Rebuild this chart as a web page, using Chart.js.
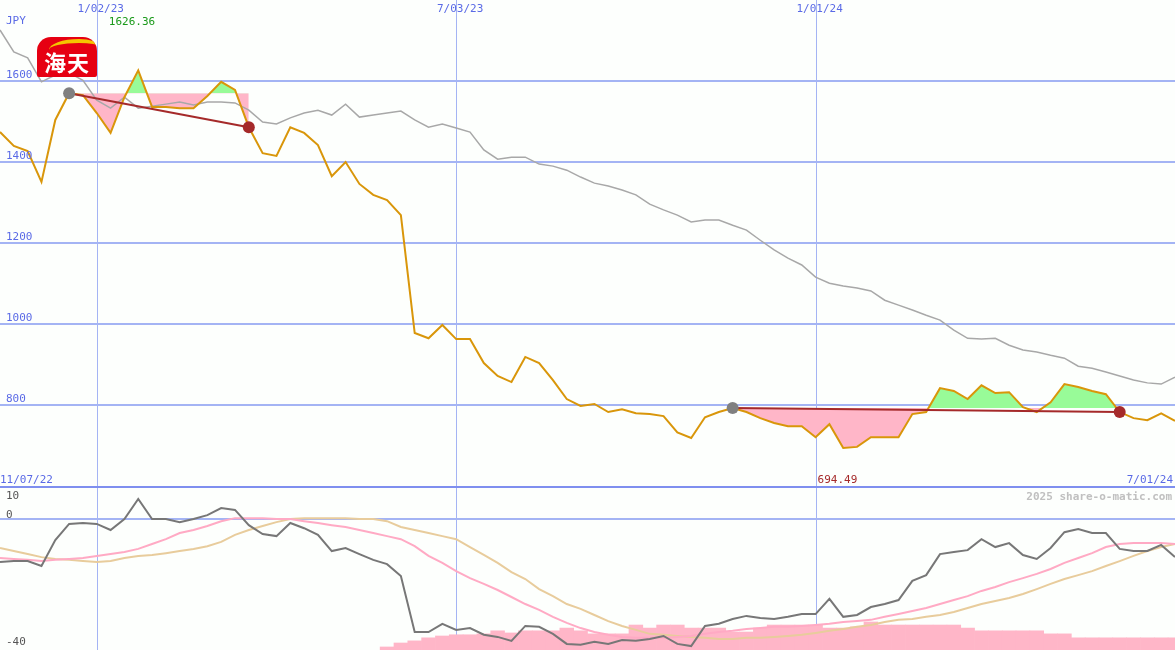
<!DOCTYPE html>
<html>
<head>
<meta charset="utf-8">
<script src="https://cdn.jsdelivr.net/npm/chart.js@4.4.1/dist/chart.umd.min.js"></script>
<style>
  body { margin: 0; background: #fdfffd; width: 1175px; height: 650px; overflow: hidden; position: relative; font-family: "DejaVu Sans Mono", monospace; }
  canvas { position: absolute; left: 0; }
  #top { top: 0; }
  #bottom { top: 488px; }
  #divider { position: absolute; left: 0; top: 486px; width: 1175px; height: 2px; background: #7f8fef; }
  #logo { position: absolute; left: 37px; top: 37px; width: 60px; height: 40px; background: #e60012; border-radius: 14px 14px 2px 2px; color: #fff; font: bold 22px "Noto Sans CJK SC", sans-serif; text-align: center; line-height: 48px; letter-spacing: 1px; overflow: hidden; }
  #logo:before { content: ""; position: absolute; left: 12px; top: 2px; width: 50px; height: 14px; border-top: 4px solid #f5c400; border-radius: 60% 40% 0 0; }
</style>
</head>
<body>
<canvas id="top" width="1175" height="487"></canvas>
<canvas id="bottom" width="1175" height="162"></canvas>
<div id="divider"></div>
<div id="logo">海天</div>
<script>
// weekly closes, 11/2022 .. 7/2024 (JPY)
const price = [1474,1440,1427,1351,1504,1570,1565,1521,1472,1560,1626.36,1536,1536,1533,1533,1563,1598,1578,1486,1422,
  1415,1486,1472,1442,1365,1400,1346,1319,1306,1269,978,965,998,963,963,904,872,857,919,904,
  862,815,798,803,783,790,780,778,773,733,719,770,783,793,783,768,756,748,748,721,
  753,694.49,697,721,721,721,778,783,842,835,815,849,830,832,795,783,807,852,845,835,
  827,783,768,763,780,761];
const average = [1726,1672,1657,1598,1615,1620,1602,1553,1533,1560,1533,1538,1543,1548,1541,1548,1548,1546,1528,1499,
  1494,1509,1521,1528,1516,1543,1511,1516,1521,1526,1504,1486,1494,1484,1474,1430,1407,1412,1412,1395,
  1390,1380,1363,1348,1341,1331,1319,1296,1282,1269,1252,1257,1257,1244,1232,1207,1183,1163,1146,1116,
  1101,1094,1089,1082,1059,1047,1035,1022,1010,985,965,963,965,948,936,931,923,916,896,891,
  882,872,862,855,852,869];
const momentum = [-14.1,-13.8,-13.8,-15.4,-6.9,-1.6,-1.3,-1.6,-3.6,0,6.6,0,0,-1.0,0,1.3,3.6,3.0,-2.0,-4.9,
  -5.6,-1.3,-3.0,-5.2,-10.5,-9.5,-11.5,-13.4,-14.8,-18.7,-37.1,-37.1,-34.4,-36.4,-35.8,-38.0,-38.7,-40.0,-35.1,-35.4,
  -37.7,-41.0,-41.3,-40.3,-41.0,-39.7,-40.0,-39.4,-38.4,-41.0,-41.7,-35.1,-34.4,-32.8,-31.8,-32.5,-32.8,-32.1,-31.2,-31.2,
  -26.2,-32.1,-31.5,-28.9,-27.9,-26.6,-20.3,-18.4,-11.5,-10.8,-10.2,-6.6,-9.2,-7.9,-11.8,-13.1,-9.5,-4.3,-3.3,-4.6,
  -4.6,-9.8,-10.5,-10.5,-8.5,-12.5];
const signalFast = [-12.8,-13.1,-13.4,-13.8,-13.4,-13.1,-12.8,-12.1,-11.5,-10.8,-9.8,-8.2,-6.6,-4.6,-3.6,-2.3,-0.7,0.3,0.3,0.3,
  0,0,-0.7,-1.3,-2.0,-2.6,-3.6,-4.6,-5.6,-6.6,-8.9,-12.1,-14.4,-17.1,-19.4,-21.3,-23.3,-25.6,-27.9,-29.8,
  -32.1,-34.1,-35.8,-37.1,-38.0,-38.7,-39.0,-39.0,-39.0,-38.7,-38.4,-37.7,-37.1,-36.7,-36.1,-35.8,-35.4,-35.4,-35.1,-34.8,
  -34.4,-33.8,-33.5,-33.1,-32.1,-31.2,-30.2,-29.2,-27.9,-26.6,-25.3,-23.6,-22.3,-20.7,-19.4,-18.0,-16.4,-14.4,-12.8,-11.2,
  -9.2,-8.2,-7.9,-7.9,-7.9,-8.2];
const signalSlow = [-9.5,-10.5,-11.5,-12.5,-13.1,-13.4,-13.8,-14.1,-13.8,-12.8,-12.1,-11.8,-11.2,-10.5,-9.8,-8.9,-7.5,-5.2,-3.6,-2.3,
  -1.0,0,0.3,0.3,0.3,0.3,0,0,-0.7,-2.6,-3.6,-4.6,-5.6,-6.6,-9.2,-11.8,-14.4,-17.4,-19.7,-23.0,
  -25.3,-27.9,-29.5,-31.5,-33.5,-35.1,-36.4,-37.7,-38.0,-38.4,-38.7,-39.0,-39.4,-39.4,-39.0,-39.0,-38.7,-38.4,-38.0,-37.4,
  -36.7,-36.1,-35.4,-34.8,-33.8,-33.1,-32.8,-32.1,-31.5,-30.5,-29.2,-27.9,-26.9,-25.9,-24.6,-23.0,-21.3,-19.7,-18.4,-17.1,
  -15.4,-13.8,-12.1,-10.5,-9.2,-8.2];
const volumeBars = [null,null,null,null,null,null,null,null,null,null,null,null,null,null,null,null,null,null,null,null,
  null,null,null,null,null,null,null,null,-42.0,-40.7,-40.0,-39.0,-38.4,-38.0,-38.0,-37.7,-36.7,-37.4,-36.7,-36.7,
  -36.7,-35.8,-36.7,-37.7,-37.7,-37.7,-34.8,-35.8,-34.8,-34.8,-35.8,-35.8,-35.8,-37.1,-37.1,-35.8,-34.8,-34.8,-34.8,-34.8,
  -35.8,-35.8,-35.4,-33.8,-34.8,-34.8,-34.8,-34.8,-34.8,-34.8,-35.8,-36.7,-36.7,-36.7,-36.7,-36.7,-37.7,-37.7,-39.0,-39.0,
  -39.0,-39.0,-39.0,-39.0,-39.0,-39.0];
const dateTicks = [7, 33, 59];
const dateLabels = ["1/02/23", "7/03/23", "1/01/24"];
const priceTicks = [800, 1000, 1200, 1400, 1600];
const signals = [[5, 18], [53, 81]];

const gridBlue = "#a4b4f4";
const pts = arr => arr.map((v, i) => ({ x: i, y: v }));

const chartFont = '11px "DejaVu Sans Mono", monospace';

function gridPlugin(hTicks, labelFn) {
  return {
    id: "grid",
    beforeDatasetsDraw(chart) {
      const { ctx, scales: { x, y }, width, height } = chart;
      ctx.save();
      ctx.strokeStyle = gridBlue;
      ctx.lineWidth = 1;
      dateTicks.forEach(t => {
        const px = Math.round(x.getPixelForValue(t)) + 0.5;
        ctx.beginPath(); ctx.moveTo(px, 0); ctx.lineTo(px, height); ctx.stroke();
      });
      ctx.lineWidth = 2;
      hTicks.forEach(t => {
        const py = Math.round(y.getPixelForValue(t));
        ctx.beginPath(); ctx.moveTo(0, py); ctx.lineTo(width, py); ctx.stroke();
      });
      ctx.restore();
    },
    afterDatasetsDraw(chart) {
      const { ctx } = chart;
      ctx.save();
      ctx.font = chartFont;
      ctx.textBaseline = "alphabetic";
      labelFn(chart, ctx);
      ctx.restore();
    }
  };
}

// ---------- price panel ----------
const datasets = [];
signals.forEach(([a, b]) => {
  datasets.push({ data: [{ x: a, y: price[a] }], pointRadius: 6, pointBackgroundColor: "#808080", pointBorderWidth: 0, showLine: false });
  datasets.push({ data: [{ x: b, y: price[b] }], pointRadius: 6, pointBackgroundColor: "#a52a2a", pointBorderWidth: 0, showLine: false });
  datasets.push({ data: [{ x: a, y: price[a] }, { x: b, y: price[b] }], borderColor: "#a52a2a", borderWidth: 2, pointRadius: 0 });
});
datasets.push({ data: pts(price), borderColor: "#d9960a", borderWidth: 2, pointRadius: 0 });
datasets.push({ data: pts(average), borderColor: "#a8a8a8", borderWidth: 1.5, pointRadius: 0 });
signals.forEach(([a, b]) => {
  const idx = [];
  for (let i = a; i <= b; i++) idx.push(i);
  const levelIndex = datasets.length + 1;
  datasets.push({
    data: idx.map(i => ({ x: i, y: price[i] })),
    borderWidth: 0, pointRadius: 0,
    fill: { target: levelIndex, above: "#98fb98", below: "#ffb6c8" }
  });
  datasets.push({ data: idx.map(i => ({ x: i, y: price[a] })), borderWidth: 0, pointRadius: 0 });
});

new Chart(document.getElementById("top"), {
  type: "line",
  data: { datasets },
  options: {
    responsive: false, animation: false, devicePixelRatio: 1,
    layout: { padding: 0, autoPadding: false },
    plugins: { legend: { display: false }, tooltip: { enabled: false } },
    scales: {
      x: { type: "linear", min: 0, max: 85, display: false },
      y: { min: 598, max: 1800, display: false }
    }
  },
  plugins: [gridPlugin(priceTicks, (chart, ctx) => {
    const { x, y } = chart.scales;
    ctx.fillStyle = "#5a6ae6";
    ctx.fillText("JPY", 6, 24);
    priceTicks.forEach(t => ctx.fillText(String(t), 6, y.getPixelForValue(t) - 3));
    ctx.textAlign = "center";
    dateTicks.forEach((t, i) => ctx.fillText(dateLabels[i], x.getPixelForValue(t) + 4, 12));
    ctx.textAlign = "left";
    ctx.fillText("11/07/22", 0, 483);
    ctx.textAlign = "right";
    ctx.fillText("7/01/24", 1173, 483);
    ctx.textAlign = "left";
    ctx.fillStyle = "#1a9a1a";
    ctx.fillText(String(Math.max(...price)), x.getPixelForValue(7) + 12, 25);
    ctx.fillStyle = "#a52a2a";
    ctx.fillText(String(Math.min(...price)), x.getPixelForValue(59) + 2, 483);
  })]
});

// ---------- momentum panel ----------
new Chart(document.getElementById("bottom"), {
  data: {
    datasets: [
      { type: "line", data: pts(momentum), borderColor: "#777777", borderWidth: 2, pointRadius: 0 },
      { type: "line", data: pts(signalFast), borderColor: "#ffaac4", borderWidth: 2, pointRadius: 0 },
      { type: "line", data: pts(signalSlow), borderColor: "#e8cc9c", borderWidth: 2, pointRadius: 0 },
      { type: "bar", data: pts(volumeBars), base: -43, backgroundColor: "#ffb6c8", barPercentage: 1, categoryPercentage: 1 }
    ]
  },
  options: {
    responsive: false, animation: false, devicePixelRatio: 1,
    layout: { padding: 0, autoPadding: false },
    plugins: { legend: { display: false }, tooltip: { enabled: false } },
    scales: {
      x: { type: "linear", min: 0, max: 85, display: false, offset: false },
      y: { min: -43, max: 10.2, display: false }
    }
  },
  plugins: [gridPlugin([0], (chart, ctx) => {
    const { y } = chart.scales;
    ctx.fillStyle = "#555555";
    ctx.fillText("10", 6, 11);
    ctx.fillText("0", 6, 30);
    ctx.fillText("-40", 6, y.getPixelForValue(-40) + 4);
    ctx.fillStyle = "#c0c0c0";
    ctx.font = 'bold 11px "DejaVu Sans Mono", monospace';
    ctx.textAlign = "right";
    ctx.fillText("2025 share-o-matic.com", 1172, 12);
  })]
});
</script>
</body>
</html>
